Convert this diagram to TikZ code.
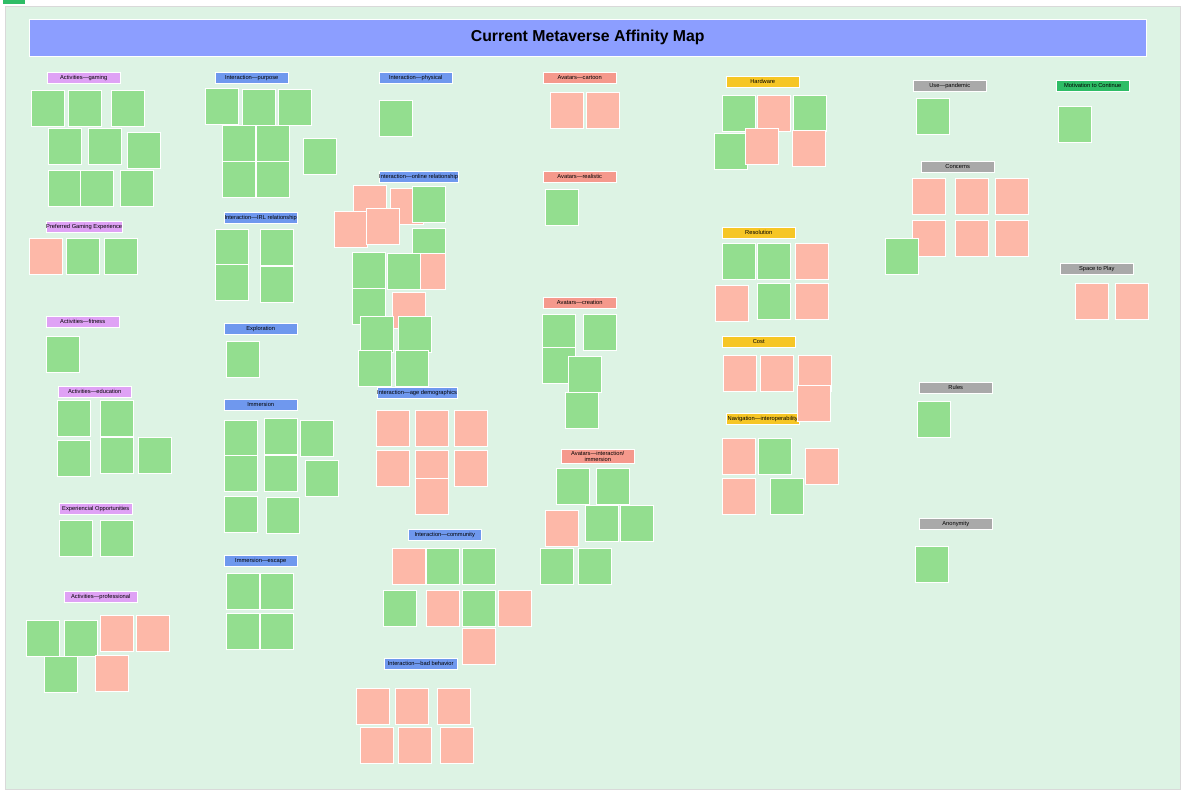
\documentclass[tikz,border=0pt]{standalone}
\usepackage{fontspec}
\setmainfont{Liberation Sans}
\definecolor{bgg}{HTML}{DDF3E4}
\definecolor{titleb}{HTML}{8C9EFF}
\definecolor{hpur}{HTML}{DFA2F5}
\definecolor{hblu}{HTML}{6F98EE}
\definecolor{hsal}{HTML}{F5998C}
\definecolor{hyel}{HTML}{F6C625}
\definecolor{hgry}{HTML}{A9A9A9}
\definecolor{hgrn}{HTML}{2EBD66}
\definecolor{ng}{HTML}{93DE8F}
\definecolor{np}{HTML}{FDB8A8}
\tikzset{
 note/.style={anchor=north west,minimum width=1.0cm,minimum height=1.08cm,inner sep=0pt,draw=white,line width=0.3pt},
 head/.style={anchor=north west,minimum width=2.19cm,minimum height=0.32cm,inner sep=0pt,font=\fontsize{4.9}{5.5}\selectfont,draw=white,line width=0.4pt},
}
\begin{document}
\begin{tikzpicture}[x=0.03cm,y=-0.03cm]
\useasboundingbox (0,0) rectangle (1184,794);
\fill[white] (0,0) rectangle (1184,794);
\node[draw=black!15,fill=bgg,anchor=north west,minimum width=35.25cm,minimum height=23.49cm,inner sep=0pt] (frame) at (5,6) {};
\node[fill=hgrn,anchor=north west,minimum width=0.66cm,minimum height=0.12cm,inner sep=0pt] (tag) at (3,0) {};
\node[fill=titleb,draw=white,anchor=north west,minimum width=33.51cm,minimum height=1.11cm,inner sep=0pt,font=\fontsize{13.5}{15}\selectfont\bfseries] (title) at (29,19) {Current Metaverse Affinity Map};
\foreach \x/\y/\c/\t [count=\i] in {
47/72/hpur/Activities—gaming, 215/72/hblu/Interaction—purpose, 379/72/hblu/Interaction—physical,
543/72/hsal/Avatars—cartoon, 726/76/hyel/Hardware, 913/80/hgry/Use—pandemic,
1056/80/hgrn/Motivation to Continue, 46/221/hpur/Preferred Gaming Experience,
224/212/hblu/Interaction—IRL relationship, 379/171/hblu/Interaction—online relationship,
543/171/hsal/Avatars—realistic, 921/161/hgry/Concerns, 722/227/hyel/Resolution,
1060/263/hgry/Space to Play, 46/316/hpur/Activities—fitness, 224/323/hblu/Exploration,
543/297/hsal/Avatars—creation, 722/336/hyel/Cost, 919/382/hgry/Rules,
58/386/hpur/Activities—education, 377/387/hblu/Interaction—age demographics,
224/399/hblu/Immersion, 726/413/hyel/Navigation—interoperability,
59/503/hpur/Experiencial Opportunities, 408/529/hblu/Interaction—community,
919/518/hgry/Anonymity, 224/555/hblu/Immersion—escape, 64/591/hpur/Activities—professional,
384/658/hblu/Interaction—bad behavior}
 \node[head,fill=\c] (h\i) at (\x,\y) {\t};
\node[head,fill=hsal,minimum height=0.42cm,align=center] (hai) at (561,449) {Avatars—interaction/\\immersion};
\foreach \x/\y/\c [count=\i] in {
31/90/ng,68/90/ng,111/90/ng,48/128/ng,88/128/ng,127/132/ng,48/170/ng,80/170/ng,120/170/ng,
205/88/ng,242/89/ng,278/89/ng,222/125/ng,256/125/ng,222/161/ng,256/161/ng,303/138/ng,
379/100/ng,
353/185/np,390/188/np,412/186/ng,334/211/np,366/208/np,412/228/ng,412/253/np,352/252/ng,387/253/ng,352/288/ng,392/292/np,360/316/ng,398/316/ng,358/350/ng,395/350/ng,
550/92/np,586/92/np,545/189/ng,
722/95/ng,757/95/np,793/95/ng,714/133/ng,745/128/np,792/130/np,
916/98/ng,1058/106/ng,
912/178/np,955/178/np,995/178/np,912/220/np,955/220/np,995/220/np,885/238/ng,
722/243/ng,757/243/ng,795/243/np,715/285/np,757/283/ng,795/283/np,
1075/283/np,1115/283/np,
542/314/ng,583/314/ng,542/347/ng,568/356/ng,565/392/ng,
723/355/np,760/355/np,798/355/np,797/385/np,
917/401/ng,915/546/ng,
722/438/np,758/438/ng,805/448/np,722/478/np,770/478/ng,
556/468/ng,596/468/ng,545/510/np,585/505/ng,620/505/ng,540/548/ng,578/548/ng,
376/410/np,415/410/np,454/410/np,376/450/np,415/450/np,454/450/np,415/478/np,
392/548/np,426/548/ng,462/548/ng,383/590/ng,426/590/np,462/590/ng,498/590/np,462/628/np,
356/688/np,395/688/np,437/688/np,360/727/np,398/727/np,440/727/np,
224/420/ng,264/418/ng,300/420/ng,224/455/ng,264/455/ng,305/460/ng,224/496/ng,266/497/ng,
226/341/ng,
215/229/ng,260/229/ng,215/264/ng,260/266/ng,
226/573/ng,260/573/ng,226/613/ng,260/613/ng,
26/620/ng,64/620/ng,100/615/np,136/615/np,44/656/ng,95/655/np,
59/520/ng,100/520/ng,
57/400/ng,100/400/ng,57/440/ng,100/437/ng,138/437/ng,
46/336/ng,
29/238/np,66/238/ng,104/238/ng}
 \node[note,fill=\c] (n\i) at (\x,\y) {};
\end{tikzpicture}
\end{document}
